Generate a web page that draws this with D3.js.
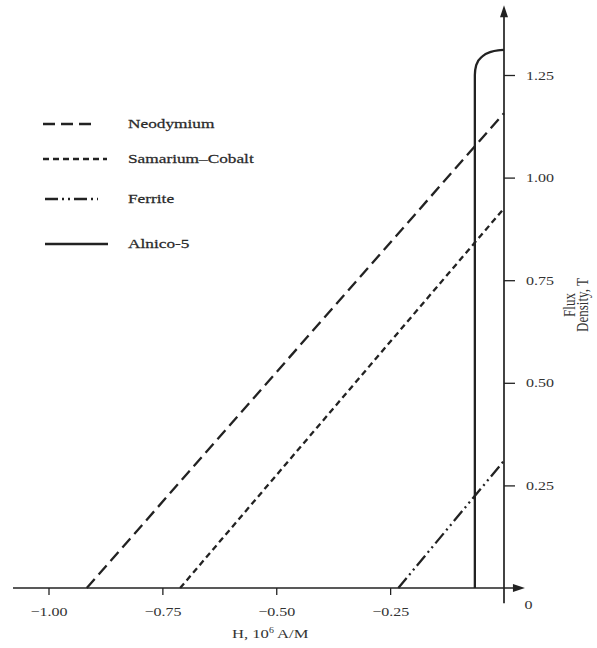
<!DOCTYPE html>
<html>
<head>
<meta charset="utf-8">
<script src="https://cdn.jsdelivr.net/npm/d3@7"></script>
<style>
  body { margin: 0; background: #fff; }
  text { font-family: "Liberation Serif", "DejaVu Serif", serif; fill: #333; }
</style>
</head>
<body>
<div id="chart"></div>
<script>
// demagnetization curves, values
const materials = ["Neodymium", "Samarium\u2013Cobalt", "Ferrite", "Alnico-5"];
const neodymiumH = [-0.916, 0];
const neodymiumB = [0, 1.157];
const samariumH = [-0.711, 0];
const samariumB = [0, 0.925];
const ferriteH = [-0.232, 0];
const ferriteB = [0, 0.31];
const alnicoH = [-0.064, -0.064, -0.061, -0.050, -0.032, -0.013, 0];
const alnicoB = [0, 1.250, 1.274, 1.293, 1.305, 1.310, 1.311];

const xTicks = [-1.0, -0.75, -0.5, -0.25, 0];
const yTicks = [0.25, 0.5, 0.75, 1.0, 1.25];

const width = 597, height = 648;
const sx = 1.28; // the scan is stretched sideways, so is the lettering

const svg = d3.select("#chart").append("svg")
  .attr("width", width)
  .attr("height", height);

const x = d3.scaleLinear().domain([-1, 0]).range([48.5, 504]);
const y = d3.scaleLinear().domain([0, 1.25]).range([588, 75]);

const ink = "#222";

// axis lines with arrows
svg.append("line")
  .attr("x1", x(-1.078)).attr("x2", x(0.035))
  .attr("y1", y(0)).attr("y2", y(0))
  .attr("stroke", ink).attr("stroke-width", 1.7);
svg.append("path")
  .attr("d", `M${x(0.046)},${y(0)} l-12,-4 l0,8 z`)
  .attr("fill", ink);

svg.append("line")
  .attr("x1", x(0)).attr("x2", x(0))
  .attr("y1", y(-0.037)).attr("y2", y(1.40))
  .attr("stroke", ink).attr("stroke-width", 1.7);
svg.append("path")
  .attr("d", `M${x(0)},${y(1.42)} l-4,12 l8,0 z`)
  .attr("fill", ink);

// x axis ticks
const xAxis = svg.append("g")
  .attr("transform", `translate(0,${y(0)})`)
  .call(d3.axisBottom(x)
    .tickValues(xTicks)
    .tickSize(7)
    .tickPadding(12)
    .tickFormat(d => d === 0 ? "0" : d3.format(".2f")(d).replace("-", "\u2212")));
xAxis.select(".domain").remove();
xAxis.selectAll(".tick line").attr("stroke", ink).attr("stroke-width", 1.3)
  .filter(d => d === 0).remove();
xAxis.selectAll(".tick text")
  .attr("fill", "#333")
  .style("font-size", "12.5px")
  .attr("transform", `scale(${sx},1)`);
xAxis.selectAll(".tick text").filter(d => d === 0)
  .attr("x", 24 / sx).attr("dy", "0.2em");

// y axis ticks
const yAxis = svg.append("g")
  .attr("transform", `translate(${x(0)},0)`)
  .call(d3.axisRight(y)
    .tickValues(yTicks)
    .tickSize(11)
    .tickPadding(11)
    .tickFormat(d3.format(".2f")));
yAxis.select(".domain").remove();
yAxis.selectAll(".tick line").attr("stroke", ink).attr("stroke-width", 1.3);
yAxis.selectAll(".tick text")
  .attr("fill", "#333")
  .style("font-size", "12.5px")
  .attr("x", 22 / sx)
  .attr("transform", `scale(${sx},1)`);

// axis titles
const xTitle = svg.append("text")
  .attr("transform", `translate(232,638) scale(${sx - 0.05},1)`)
  .style("font-size", "13.5px");
xTitle.append("tspan").text("H, 10");
xTitle.append("tspan").attr("dy", -5).style("font-size", "8px").text("6");
xTitle.append("tspan").attr("dy", 5).text(" A/M");

const yTitle = svg.append("g")
  .attr("transform", `translate(575,305) rotate(-90) scale(1,${sx})`);
yTitle.append("text")
  .attr("x", 0).attr("y", 0)
  .attr("text-anchor", "middle")
  .style("font-size", "13px")
  .text("Flux");
yTitle.append("text")
  .attr("x", 0).attr("y", 12 / sx)
  .attr("dy", "0.05em")
  .attr("text-anchor", "middle")
  .style("font-size", "13px")
  .text("Density, T");

// curves
const series = [
  { name: materials[0], h: neodymiumH, b: neodymiumB, dash: "12,6" },
  { name: materials[1], h: samariumH, b: samariumB, dash: "6,4" },
  { name: materials[2], h: ferriteH, b: ferriteB, dash: "13,4,2,4,2,4" },
  { name: materials[3], h: alnicoH, b: alnicoB, dash: null }
];

const line = d3.line()
  .x(d => x(d[0]))
  .y(d => y(d[1]))
  .curve(d3.curveMonotoneY);

svg.selectAll(".curve")
  .data(series)
  .enter().append("path")
  .attr("class", "curve")
  .attr("d", s => line(d3.zip(s.h, s.b)))
  .attr("fill", "none")
  .attr("stroke", ink)
  .attr("stroke-width", 2.3)
  .attr("stroke-dasharray", s => s.dash);

// legend
const legendRows = [124, 159, 199, 244];
const legendEnds = [[43, 96], [43, 107], [45, 98], [45, 108]];

const legend = svg.selectAll(".legend")
  .data(series)
  .enter().append("g")
  .attr("class", "legend");

legend.append("line")
  .attr("x1", (s, i) => legendEnds[i][0])
  .attr("x2", (s, i) => legendEnds[i][1])
  .attr("y1", (s, i) => legendRows[i])
  .attr("y2", (s, i) => legendRows[i])
  .attr("stroke", ink)
  .attr("stroke-width", 2.3)
  .attr("stroke-dasharray", s => s.dash);

legend.append("text")
  .attr("transform", (s, i) => `translate(128,${legendRows[i] + 4}) scale(${sx},1)`)
  .style("font-size", "13.5px")
  .style("fill", "#2a2a2a")
  .style("stroke", "#2a2a2a")
  .style("stroke-width", 0.25)
  .text(s => s.name);
</script>
</body>
</html>
